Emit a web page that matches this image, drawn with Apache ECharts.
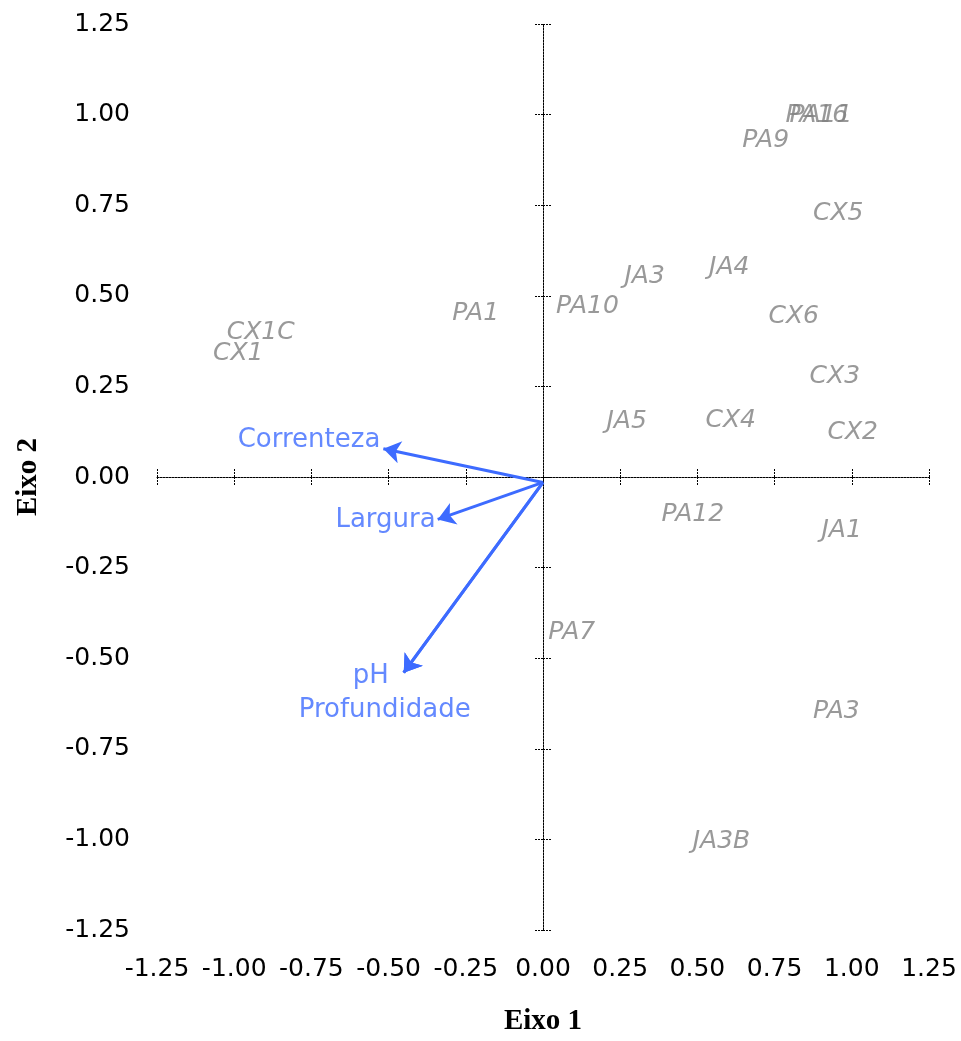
<!DOCTYPE html>
<html>
<head>
<meta charset="utf-8">
<script src="https://cdn.jsdelivr.net/npm/echarts@6/dist/echarts.min.js"></script>
<style>
html,body{margin:0;padding:0;background:#fff;overflow:hidden;}
#chart{width:961px;height:1041px;}
</style>
</head>
<body>
<div id="chart"></div>
<script>
// ---- data ----
const siteNames = ['PA16','PA11','PA9','CX5','JA3','JA4','PA1','PA10','CX6','CX1C','CX1','CX3','JA5','CX4','CX2','PA12','JA1','PA7','PA3','JA3B'];
const siteEixo1 = [0.887,0.900,0.721,0.956,0.329,0.603,-0.218,0.144,0.812,-0.914,-0.987,0.945,0.271,0.608,1.003,0.485,0.967,0.093,0.950,0.578];
const siteEixo2 = [0.997,0.997,0.929,0.726,0.554,0.577,0.450,0.471,0.444,0.399,0.341,0.276,0.152,0.156,0.122,-0.103,-0.147,-0.430,-0.646,-1.006];

const varNames = ['Correnteza','Largura','pH','Profundidade'];
const varEixo1 = [-0.517,-0.341,-0.451,-0.451];
const varEixo2 = [0.078,-0.117,-0.540,-0.540];
const arrowOrigin = [0, -0.015];

const axisMin = -1.25, axisMax = 1.25, axisStep = 0.25;

// ---- styles ----
const arrowColor = '#3d6bff';
const siteColor = '#808080';
const lineDash = [2, 1];

const varLabelStyle = {
  'Correnteza':   {position: 'left', distance: 3, offset: [0, -8]},
  'Largura':      {position: 'left', distance: 2, offset: [0, 1]},
  'pH':           {position: 'inside', offset: [-33, 4]},
  'Profundidade': {position: 'inside', offset: [-19, 38]}
};

const chart = echarts.init(document.getElementById('chart'), null, {renderer: 'canvas'});

function labelAxis(dim) {
  const isX = dim === 'x';
  return {
    type: 'value', min: axisMin, max: axisMax, interval: axisStep,
    position: isX ? 'bottom' : 'left',
    axisLine: {show: false, onZero: false},
    axisTick: {show: false},
    splitLine: {show: false},
    axisLabel: {
      show: true, margin: 27, color: '#000', fontSize: 25,
      fontFamily: 'DejaVu Sans',
      formatter: v => v.toFixed(2)
    },
    name: isX ? 'Eixo 1' : 'Eixo 2',
    nameLocation: 'middle',
    nameGap: isX ? 77 : 114,
    nameTextStyle: {fontFamily: 'Liberation Serif', fontWeight: 'bold', fontSize: 29, color: '#000'}
  };
}
function zeroAxis(dim, inside, showLine) {
  const isX = dim === 'x';
  return {
    type: 'value', min: axisMin, max: axisMax, interval: axisStep,
    position: isX ? 'bottom' : 'left',
    axisLine: {show: showLine, onZero: true, onZeroAxisIndex: 0,
      lineStyle: {color: '#000', width: 1, type: lineDash}},
    axisTick: {show: true, inside: inside, length: 9,
      lineStyle: {color: '#000', width: 1, type: lineDash}},
    axisLabel: {show: false},
    splitLine: {show: false}
  };
}

const siteData = siteNames.map((n, i) => [siteEixo1[i], siteEixo2[i], n]);
const arrowData = varNames.map((n, i) => ({coords: [arrowOrigin, [varEixo1[i], varEixo2[i]]]}));
const varLabelData = varNames.map((n, i) => ({
  value: [varEixo1[i], varEixo2[i]],
  name: n,
  label: Object.assign({show: true, formatter: n}, varLabelStyle[n])
}));

chart.setOption({
  animation: false,
  backgroundColor: '#fff',
  grid: {left: 157, right: 32, top: 24, bottom: 106, containLabel: false},
  xAxis: [labelAxis('x'), zeroAxis('x', false, true), zeroAxis('x', true, false)],
  yAxis: [labelAxis('y'), zeroAxis('y', false, true), zeroAxis('y', true, false)],
  series: [
    {
      type: 'lines', coordinateSystem: 'cartesian2d', xAxisIndex: 0, yAxisIndex: 0,
      symbol: ['none', 'arrow'], symbolSize: [11, 17],
      lineStyle: {color: arrowColor, width: 3, opacity: 1, curveness: 0},
      data: arrowData, z: 5
    },
    {
      type: 'scatter', xAxisIndex: 0, yAxisIndex: 0, symbolSize: 0,
      label: {show: true, position: 'inside', formatter: p => p.value[2],
        color: siteColor, fontStyle: 'italic', fontFamily: 'DejaVu Sans', fontSize: 25},
      data: siteData, z: 4
    },
    {
      type: 'scatter', xAxisIndex: 0, yAxisIndex: 0, symbolSize: 0,
      label: {color: arrowColor, fontFamily: 'DejaVu Sans', fontSize: 26},
      data: varLabelData, z: 6
    }
  ]
});
</script>
</body>
</html>
